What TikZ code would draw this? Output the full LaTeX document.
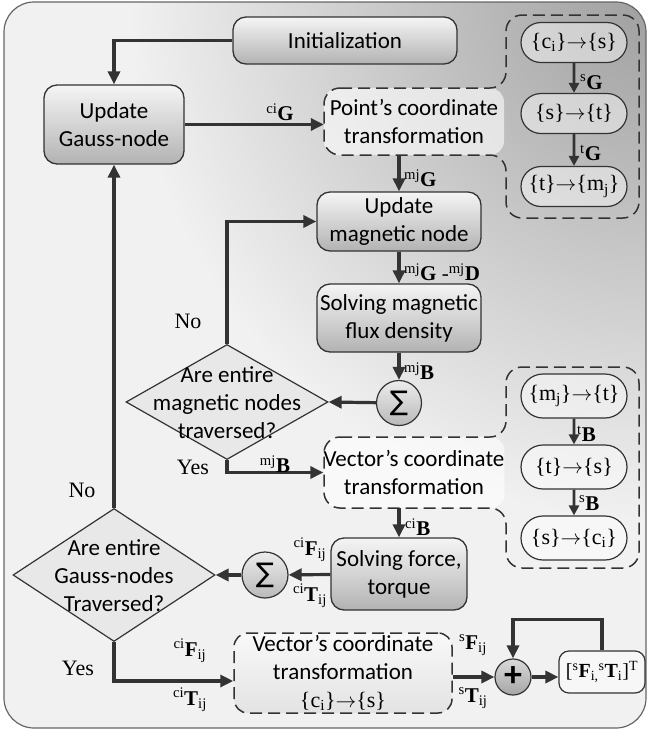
\documentclass[tikz,border=0pt]{standalone}
\usepackage{fontspec}
\setmainfont{Carlito}
\newfontfamily\lbl{Liberation Serif}
\newfontfamily\symf{DejaVu Sans}
\usetikzlibrary{shapes.geometric,shapes.misc,arrows.meta}

\tikzset{
  box/.style={draw=black!80, line width=1.3pt, rounded corners=13pt, top color=gray!8, bottom color=gray!60,
    align=center, inner sep=0pt, font=\fontsize{23}{28}\selectfont},
  dbox/.style={rounded corners=14pt, fill=white, fill opacity=0.6, text opacity=1,
    align=center, inner sep=0pt, font=\fontsize{23}{28}\selectfont},
  dashline/.style={draw=black!80, line width=1.5pt, dash pattern=on 12pt off 6pt},
  pill/.style={rounded rectangle, draw=black!80, line width=1.2pt, fill=white, fill opacity=0.45, text opacity=1,
    minimum width=106pt, minimum height=40pt, inner sep=0pt, font=\lbl\fontsize{22}{26}\selectfont},
  decision/.style={diamond, draw=black!80, line width=1.2pt, fill=gray!18, inner sep=0pt},
  sumc/.style={circle, draw=black!80, line width=1.2pt, top color=gray!15, bottom color=gray!55,
    minimum size=45pt, inner sep=0pt, font=\symf\fontsize{27}{27}\selectfont},
  flow/.style={draw=black!80, line width=3.2pt, -{Triangle[length=13pt,width=12pt]}},
  subflow/.style={draw=black!80, line width=2.6pt, -{Triangle[length=10pt,width=10pt]}},
  lab/.style={font=\lbl\fontsize{21}{25}\selectfont, inner sep=0pt},
  txt/.style={align=center, inner sep=0pt, font=\fontsize{23}{28}\selectfont}
}

\begin{document}
\begin{tikzpicture}[x=1pt, y=-1pt]
  \useasboundingbox (0,0) rectangle (649,732);

  % background frame
  \begin{scope}
    \clip[rounded corners=30pt] (4,2) rectangle (646,728);
    \fill[gray!11] (0,0) rectangle (649,732);
    \shade[inner color=gray!75, outer color=gray!11] (649,0) circle (520pt);
  \end{scope}
  \draw[draw=black!60, line width=1.2pt, rounded corners=30pt] (4,2) rectangle (646,728);

  % main blocks
  \node[box, minimum width=224pt, minimum height=47pt] (Init) at (345,40.5) {Initialization};
  \node[box, minimum width=140pt, minimum height=79pt] (Gauss) at (114,124.5) {Update\\Gauss-node};
  \node[dbox, minimum width=180pt, minimum height=67pt] (Point) at (414,121.5) {Point’s coordinate\\transformation};
  \node[box, minimum width=164pt, minimum height=59pt] (Umag) at (399,221.5) {Update\\magnetic node};
  \node[box, minimum width=164pt, minimum height=68pt] (Smag) at (399,318) {Solving magnetic\\flux density};
  \node[sumc] (Sig1) at (399,403) {∑};
  \node[decision, minimum width=202pt, minimum height=115pt] (D1) at (227,402) {};
  \node[txt] (D1txt) at (227,403) {Are entire\\magnetic nodes\\traversed?};
  \node[dbox, minimum width=180pt, minimum height=71pt] (Vec1) at (414,472.5) {Vector’s coordinate\\transformation};
  \node[box, minimum width=136pt, minimum height=72pt] (Sforce) at (399,574) {Solving force,\\torque};
  \node[sumc, minimum size=46pt] (Sig2) at (265,575) {∑};
  \node[decision, minimum width=202pt, minimum height=133pt] (D2) at (114,575) {};
  \node[txt] (D2txt) at (114,576) {Are entire\\Gauss-nodes\\Traversed?};
  \node[dbox, dashline, top color=gray!5, bottom color=gray!22, fill opacity=1, minimum width=218pt, minimum height=80pt] (Vec2) at (343,673)
    {Vector’s coordinate\\transformation\\{\lbl\fontsize{22}{26}\selectfont\{c\textsubscript{i}\}$\rightarrow$\{s\}}};
  \node[circle, draw=black!80, line width=1.2pt, top color=gray!30, bottom color=gray!70, minimum size=36pt, inner sep=0pt]
    (Plus) at (513,677) {\fontsize{36}{36}\selectfont\bfseries +};
  \node[draw=black!80, line width=1.2pt, rounded corners=10pt, fill=white, fill opacity=0.45, text opacity=1,
    minimum width=86pt, minimum height=42pt, inner sep=0pt, font=\lbl\fontsize{20}{24}\selectfont] (Res) at (602,672)
    {[\textsuperscript{s}\textbf{F}\textsubscript{i,}\textsuperscript{s}\textbf{T}\textsubscript{i}]\textsuperscript{T}};

  % dashed groups
  \draw[dashline, rounded corners=16pt] (324,88) -- (506,88) -- (506,15) -- (639,15) -- (639,218)
    -- (506,218) -- (506,155) -- (324,155) -- cycle;
  \draw[dashline, rounded corners=16pt] (324,437) -- (506,437) -- (506,367) -- (639,367) -- (639,568)
    -- (506,568) -- (506,508) -- (324,508) -- cycle;

  % frame changes
  \node[pill] (P1) at (574,42.5) {\{c\textsubscript{i}\}$\rightarrow$\{s\}};
  \node[pill] (P2) at (574,113.5) {\{s\}$\rightarrow$\{t\}};
  \node[pill] (P3) at (574,186.5) {\{t\}$\rightarrow$\{m\textsubscript{j}\}};
  \node[pill, minimum height=44pt] (Q1) at (574,396) {\{m\textsubscript{j}\}$\rightarrow$\{t\}};
  \node[pill, minimum height=44pt] (Q2) at (574,467) {\{t\}$\rightarrow$\{s\}};
  \node[pill, minimum height=44pt] (Q3) at (574,538) {\{s\}$\rightarrow$\{c\textsubscript{i}\}};

  \draw[subflow] (P1) -- (P2);
  \draw[subflow] (P2) -- (P3);
  \draw[subflow] (Q1) -- (Q2);
  \draw[subflow] (Q2) -- (Q3);

  % connectors
  \draw[flow] (Init.west) -| (Gauss.north);
  \draw[flow] (Gauss.east) -- (Gauss.east -| Point.west);
  \draw[flow] (Umag.north |- Point.south) -- (Umag.north);
  \draw[flow] (Umag) -- (Smag);
  \draw[flow] (Smag) -- (Sig1);
  \draw[flow] (Sig1) -- (D1.east);
  \draw[flow] (D1.north) |- (Umag.west);
  \draw[flow] (D1.south) |- (Vec1.west);
  \draw[flow] (Sforce.north |- Vec1.south) -- (Sforce.north);
  \draw[flow] (Sforce) -- (Sig2);
  \draw[flow] (Sig2) -- (D2.east);
  \draw[flow] (D2.north) -- (Gauss.south);
  \draw[flow] (D2.south) |- ([yshift=-8pt]Vec2.west);
  \draw[flow] (Vec2.east |- Plus.west) -- (Plus.west);
  \draw[flow] (Plus.east) -- (Plus.east -| Res.west);
  \draw[flow] (Res.north) -- ++(0,-31) -| (Plus.north);

  % labels
  \node[lab] (lciG) at (280,112) {\textsuperscript{ci}\textbf{G}};
  \node[lab, anchor=west] (lmjG) at (404,178) {\textsuperscript{mj}\textbf{G}};
  \node[lab, anchor=west] (lmjGD) at (404,272) {\textsuperscript{mj}\textbf{G} -\textsuperscript{mj}\textbf{D}};
  \node[lab, anchor=west] (lmjB) at (404,371) {\textsuperscript{mj}\textbf{B}};
  \node[lab] (lmjBo) at (275,464) {\textsuperscript{mj}\textbf{B}};
  \node[lab, anchor=west] (lciB) at (405,527) {\textsuperscript{ci}\textbf{B}};
  \node[lab, anchor=west] (lsG) at (580,82) {\textsuperscript{s}\textbf{G}};
  \node[lab, anchor=west] (ltG) at (580,153) {\textsuperscript{t}\textbf{G}};
  \node[lab, anchor=west] (ltB) at (577,434) {\textsuperscript{t}\textbf{B}};
  \node[lab, anchor=west] (lsB) at (579,503) {\textsuperscript{s}\textbf{B}};
  \node[lab] (lciF) at (310,550) {\textsuperscript{ci}\textbf{F}\textsubscript{ij}};
  \node[lab] (lciT) at (310,596) {\textsuperscript{ci}\textbf{T}\textsubscript{ij}};
  \node[lab] (lciF2) at (190,651) {\textsuperscript{ci}\textbf{F}\textsubscript{ij}};
  \node[lab] (lciT2) at (190,700) {\textsuperscript{ci}\textbf{T}\textsubscript{ij}};
  \node[lab] (lsF) at (473,645) {\textsuperscript{s}\textbf{F}\textsubscript{ij}};
  \node[lab] (lsT) at (473,698) {\textsuperscript{s}\textbf{T}\textsubscript{ij}};
  \node[lab, font=\lbl\fontsize{22}{26}\selectfont] (lNo1) at (188,321) {No};
  \node[lab, font=\lbl\fontsize{22}{26}\selectfont] (lYes1) at (193,467) {Yes};
  \node[lab, font=\lbl\fontsize{22}{26}\selectfont] (lNo2) at (82,490) {No};
  \node[lab, font=\lbl\fontsize{22}{26}\selectfont] (lYes2) at (78,668) {Yes};
\end{tikzpicture}
\end{document}
